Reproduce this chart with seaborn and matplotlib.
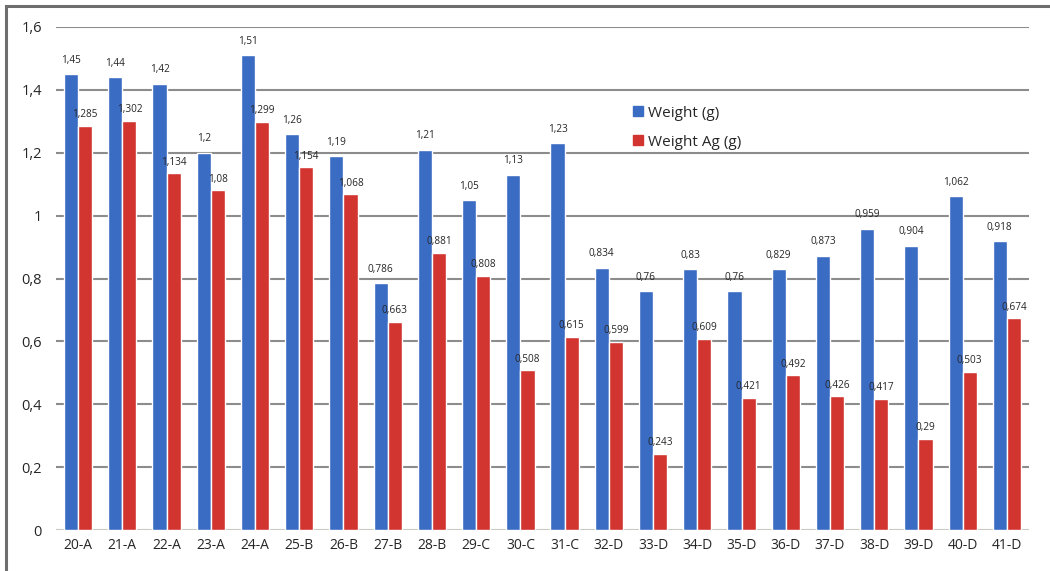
import matplotlib
matplotlib.use("Agg")
import matplotlib.pyplot as plt
import matplotlib.transforms as mtransforms
import seaborn as sns
import pandas as pd
from matplotlib.patches import Rectangle
from matplotlib.lines import Line2D

samples = ["20-A", "21-A", "22-A", "23-A", "24-A", "25-B", "26-B", "27-B", "28-B",
           "29-C", "30-C", "31-C", "32-D", "33-D", "34-D", "35-D", "36-D", "37-D",
           "38-D", "39-D", "40-D", "41-D"]
weight = [1.45, 1.44, 1.42, 1.2, 1.51, 1.26, 1.19, 0.786, 1.21, 1.05, 1.13, 1.23,
          0.834, 0.76, 0.83, 0.76, 0.829, 0.873, 0.959, 0.904, 1.062, 0.918]
weight_ag = [1.285, 1.302, 1.134, 1.08, 1.299, 1.154, 1.068, 0.663, 0.881, 0.808,
             0.508, 0.615, 0.599, 0.243, 0.609, 0.421, 0.492, 0.426, 0.417, 0.29,
             0.503, 0.674]
series_names = ["Weight (g)", "Weight Ag (g)"]
yticks = [0, 0.2, 0.4, 0.6, 0.8, 1.0, 1.2, 1.4, 1.6]
ytick_labels = ["0", "0,2", "0,4", "0,6", "0,8", "1", "1,2", "1,4", "1,6"]

colors = ["#3B6CC4", "#D23530"]

df = pd.DataFrame({
    "sample": samples * 2,
    "value": weight + weight_ag,
    "series": [series_names[0]] * len(samples) + [series_names[1]] * len(samples),
})

sns.set_theme(style="white")
plt.rcParams["font.family"] = ["Open Sans", "DejaVu Sans"]

fig = plt.figure(figsize=(10.5, 5.71), dpi=100)
ax = fig.add_axes([56 / 1050, 1 - 530 / 571, (1029 - 56) / 1050, (530 - 27) / 571])

sns.barplot(data=df, x="sample", y="value", hue="series", palette=colors,
            width=0.64, gap=0, saturation=1, ax=ax, legend=False, zorder=3)

ax.set_ylim(0, 1.6)
ax.set_xlim(-0.5, len(samples) - 0.5)
ax.set_yticks(yticks)
ax.set_yticklabels(ytick_labels, fontsize=10.5)
ax.tick_params(axis="x", labelsize=10, pad=6, length=0)
ax.tick_params(axis="y", pad=10, length=0)
ax.set_xlabel("")
ax.set_ylabel("")
for s in ax.spines.values():
    s.set_visible(False)

for y in yticks:
    ax.axhline(y, color="#8C8C8C" if y > 0 else "#C8CCC0", lw=1.5, zorder=1)

# value labels above each bar; the second series sits a little to the right
shift = mtransforms.ScaledTranslation(8 / 100, 0, fig.dpi_scale_trans)
for i, cont in enumerate(ax.containers):
    vals = weight if i == 0 else weight_ag
    labels = [f"{v:g}".replace(".", ",") for v in vals]
    texts = ax.bar_label(cont, labels=labels, fontsize=7.2,
                         padding=6 if i == 0 else 4, zorder=4)
    if i == 1:
        for t in texts:
            t.set_transform(t.get_transform() + shift)

handles = [Line2D([0], [0], marker="s", linestyle="none", markersize=7,
                  markerfacecolor=c, markeredgecolor=c) for c in colors]
fig.legend(handles, series_names, loc="upper left",
           bbox_to_anchor=(617 / 1050, 1 - 92 / 571), frameon=False,
           fontsize=11, handletextpad=0.1, labelspacing=0.9, handlelength=1.0)

# outer frame (left and top edges visible)
fig.patches.append(Rectangle((6 / 1050, -0.05), 1.1, 1.05 - 6 / 571,
                             transform=fig.transFigure, fill=False,
                             edgecolor="#6E6E6E", lw=2.2))

fig.savefig("out.png", dpi=100)
